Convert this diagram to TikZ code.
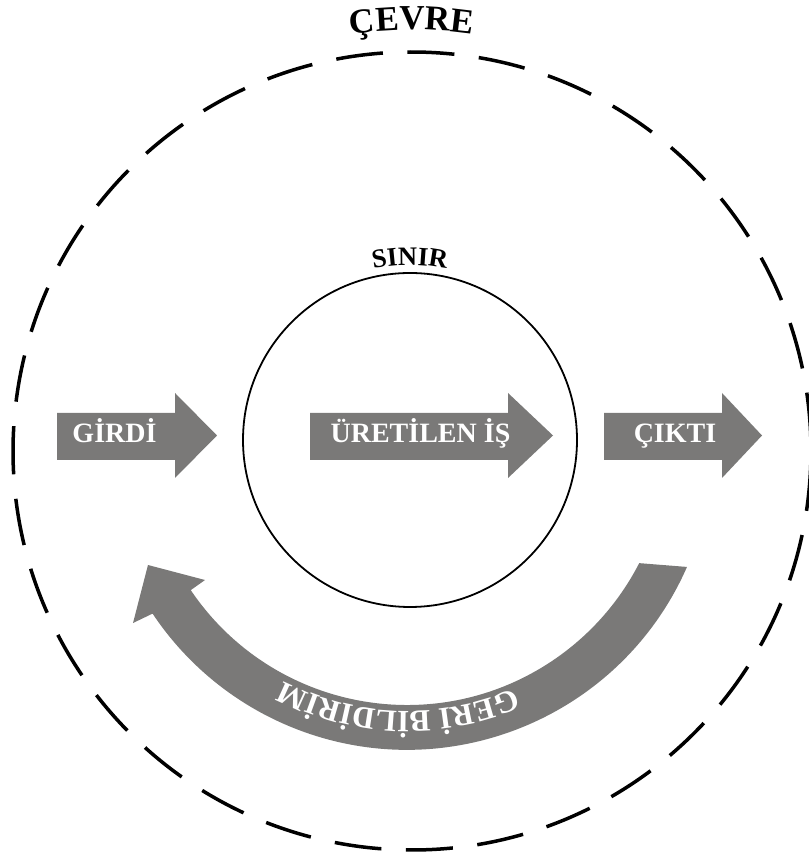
\documentclass[tikz,border=0pt]{standalone}
\usepackage{fontspec}
\setmainfont{Liberation Serif}
\usetikzlibrary{decorations.text}
\definecolor{arrowgray}{RGB}{122,121,120}
\newcommand\cevrefont{\fontsize{35}{35}\selectfont\bfseries}
\newcommand\sinirfont{\fontsize{26.5}{26.5}\selectfont\bfseries}
\newcommand\feedbackfont{\fontsize{31}{31}\selectfont\bfseries}
% straight block arrow: tail x, head base x, tip x
\newcommand\drawblockarrow[3]{%
  \fill[blockarrow] (#1,401) -- (#2,401) -- (#2,383) -- (#3,425.5)
    -- (#2,468) -- (#2,448) -- (#1,448) -- cycle;}
\begin{document}
\begin{tikzpicture}[x=1pt,y=1pt,
  blockarrow/.style={fill=arrowgray},
  arrowtext/.style={text=white, font=\fontsize{28}{28}\selectfont\bfseries,
    anchor=base, inner sep=0pt},
  envline/.style={line width=3.5pt, dash pattern=on 47pt off 24.6pt},
  sysline/.style={line width=1.8pt}]
\useasboundingbox (0,0) rectangle (808,861);
\coordinate (env) at (412,410);
\coordinate (sys) at (410,421);
\coordinate (fb) at (407,417);

% environment boundary with its curved title
\begin{scope}[shift={(env)}]
  \draw[envline] (176.6:399) arc[start angle=176.6, end angle=536.6, radius=399];
  \path[decorate, decoration={text along path, text={|\cevrefont|ÇEVRE},
    text align=center}] (150:421) arc[start angle=150, end angle=30, radius=421];
\end{scope}

% system boundary with its curved label
\begin{scope}[shift={(sys)}]
  \draw[sysline] (0:167) arc[start angle=0, end angle=360, radius=167];
  \path[decorate, decoration={text along path, text={|\sinirfont|SINIR},
    text align=center}] (160:175) arc[start angle=160, end angle=20, radius=175];
\end{scope}

% input, process and output arrows
\drawblockarrow{57}{175}{217}
\drawblockarrow{310}{508}{553}
\drawblockarrow{604}{722}{762}
\node[arrowtext] (girdi) at (114.5,418) {GİRDİ};
\node[arrowtext] (uretilen) at (420.5,418) {ÜRETİLEN İŞ};
\node[arrowtext] (cikti) at (675,418) {ÇIKTI};

% feedback loop: curved band with head, text along it
\begin{scope}[shift={(fb)}]
  \fill[blockarrow] (336.29:305.8)
    arc[start angle=336.29, end angle=213.69, radius=305.8]
    -- (213.16:327.3) -- (205.04:285.9) -- (213.96:243.5)
    -- (214.05:261) arc[start angle=214.05, end angle=332.84, radius=261]
    -- cycle;
  \path[decorate, decoration={text along path,
    text={|\feedbackfont|GERİ BİLDİRİM}, text align=center, text color=white}]
    (328:267) arc[start angle=328, end angle=208, radius=267];
\end{scope}
\end{tikzpicture}
\end{document}
